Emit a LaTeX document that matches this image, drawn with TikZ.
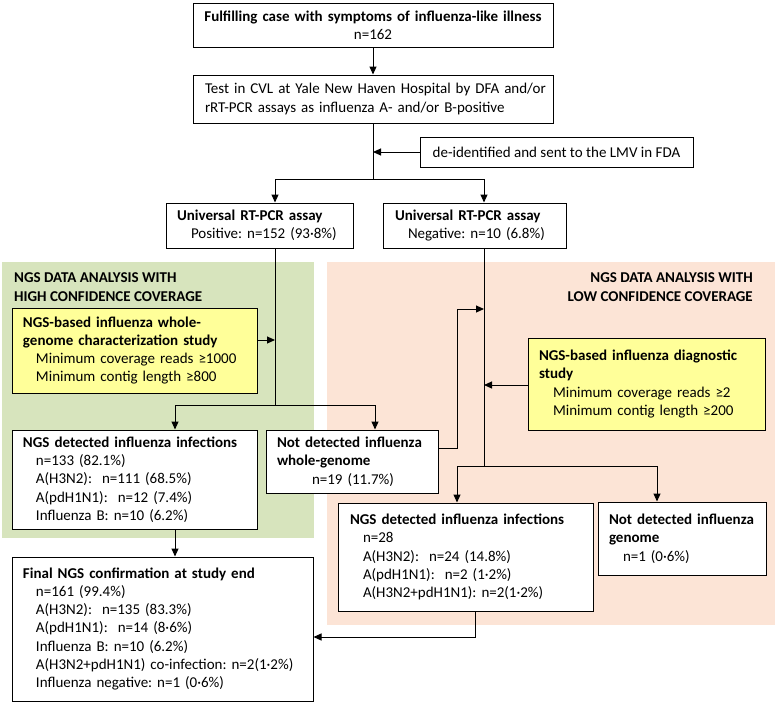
\documentclass[tikz,border=0pt]{standalone}
\usepackage{fontspec}
\setmainfont{Carlito}
\usetikzlibrary{arrows.meta}
\definecolor{greenbg}{RGB}{215,228,189}
\definecolor{peachbg}{RGB}{252,228,214}
\definecolor{yellowbox}{RGB}{255,255,153}
\newcommand\Ind{\hspace*{13pt}}
\frenchspacing
\begin{document}
\begin{tikzpicture}[x=1pt,y=-1pt,
  font=\fontsize{15}{18.3}\selectfont\frenchspacing,
  box/.style={draw=black, line width=1pt, fill=white, inner xsep=0pt, inner ysep=2pt, align=left},
  ybox/.style={box, fill=yellowbox},
  conn/.style={line width=1pt},
  arr/.style={conn, -{Triangle[length=8pt,width=7pt]}},
  grouptitle/.style={font=\fontsize{15}{18.3}\selectfont\bfseries, inner sep=0pt}]
\useasboundingbox (0,0) rectangle (777,705);
% background regions
\fill[greenbg] (2,262) rectangle (314,538);
\fill[peachbg] (327,262) rectangle (775,625);
\node[grouptitle, anchor=west, align=left] (gt) at (14,287) {NGS DATA ANALYSIS WITH\\HIGH CONFIDENCE COVERAGE};
\node[grouptitle, anchor=east, align=right] (pt) at (753,287) {NGS DATA ANALYSIS WITH\\LOW CONFIDENCE COVERAGE};
% boxes
\node[box, align=center, minimum width=360, minimum height=44, text width=338] (b1) at (373,25)
  {\mbox{\textbf{Fulfilling case with symptoms of influenza-like illness}}\\n=162};
\node[box, minimum width=360, minimum height=48, text width=336] (b2) at (373,99)
  {\mbox{Test in CVL at Yale New Haven Hospital by DFA and/or}\\\mbox{rRT-PCR assays as influenza A- and/or B-positive}};
\node[box, align=center, minimum width=273, minimum height=30] (lmv) at (556.5,152)
  {de-identified and sent to the LMV in FDA};
\node[box, minimum width=187, minimum height=45, text width=165] (u1) at (259.5,225.5)
  {\textbf{Universal RT-PCR assay}\\\hspace*{14pt}Positive: n=152 (93·8\%)};
\node[box, minimum width=183, minimum height=45, text width=159] (u2) at (474.5,225.5)
  {\textbf{Universal RT-PCR assay}\\\Ind Negative: n=10 (6.8\%)};
\node[ybox, minimum width=245, minimum height=85, text width=223] (y1) at (134.5,350.5)
  {\textbf{NGS-based influenza whole-}\\\textbf{genome characterization study}\\\Ind Minimum coverage reads ≥1000\\\Ind Minimum contig length ≥800};
\node[box, minimum width=245, minimum height=99, text width=223] (nd1) at (134.5,479.5)
  {\textbf{NGS detected influenza infections}\\\Ind n=133 (82.1\%)\\\Ind A(H3N2):\ \ n=111 (68.5\%)\\\Ind A(pdH1N1):\ \ n=12 (7.4\%)\\\Ind Influenza B: n=10 (6.2\%)};
\node[box, minimum width=172, minimum height=63, text width=150] (nn1) at (352,461.5)
  {\textbf{Not detected influenza}\\\textbf{whole-genome}\\\hspace*{35pt}n=19 (11.7\%)};
\node[ybox, minimum width=237, minimum height=92, text width=215] (y2) at (646.5,384)
  {\mbox{\textbf{NGS-based influenza diagnostic}}\\\textbf{study}\\\hspace*{14pt}Minimum coverage reads ≥2\\\hspace*{14pt}Minimum contig length ≥200};
\node[box, minimum width=255, minimum height=108, text width=231] (nd2) at (465.5,557)
  {\textbf{NGS detected influenza infections}\\\Ind n=28\\\Ind A(H3N2):\ \ n=24 (14.8\%)\\\Ind A(pdH1N1):\ \ n=2 (1·2\%)\\\Ind A(H3N2+pdH1N1): n=2(1·2\%)};
\node[box, minimum width=168, minimum height=73, text width=146] (nn2) at (682,538.5)
  {\textbf{Not detected influenza}\\\textbf{genome}\\\hspace*{14pt}n=1 (0·6\%)};
\node[box, minimum width=301, minimum height=144, text width=279] (fin) at (162.5,629)
  {\textbf{Final NGS confirmation at study end}\\\Ind n=161 (99.4\%)\\\Ind A(H3N2):\ \ n=135 (83.3\%)\\\Ind A(pdH1N1):\ \ n=14 (8·6\%)\\\Ind Influenza B: n=10 (6.2\%)\\\Ind\mbox{A(H3N2+pdH1N1) co-infection: n=2(1·2\%)}\\\Ind Influenza negative: n=1 (0·6\%)};
% coordinates
\coordinate (s1) at (373,179);
\coordinate (s1l) at (275,179);
\coordinate (s1r) at (484,179);
\coordinate (s2) at (275,405);
\coordinate (s2l) at (175,405);
\coordinate (s2r) at (375,405);
\coordinate (ya) at (275,340);
\coordinate (la) at (457,448);
\coordinate (lb) at (457,309);
\coordinate (lc) at (484,309);
\coordinate (s3) at (484,466);
\coordinate (s3l) at (457,466);
\coordinate (s3r) at (657,466);
\coordinate (yb) at (484,385);
\coordinate (fa) at (475,637);
% connectors
\draw[arr] (b1.south) -- (b2.north);
\draw[conn] (b2.south) -- (s1);
\draw[arr] (lmv.west) -- (lmv.west -| s1);
\draw[conn] (s1l) -- (s1r);
\draw[arr] (s1l) -- (s1l |- u1.north);
\draw[arr] (s1r) -- (s1r |- u2.north);
\draw[conn] (s1l |- u1.south) -- (s2);
\draw[arr] (y1.east |- ya) -- (ya);
\draw[conn] (s2l) -- (s2r);
\draw[arr] (s2l) -- (s2l |- nd1.north);
\draw[arr] (s2r) -- (s2r |- nn1.north);
\draw[arr] (nn1.east |- la) -- (la) -- (lb) -- (lc);
\draw[conn] (s1r |- u2.south) -- (s3);
\draw[arr] (y2.west |- yb) -- (yb);
\draw[conn] (s3l) -- (s3r);
\draw[arr] (s3l) -- (s3l |- nd2.north);
\draw[arr] (s3r) -- (s3r |- nn2.north);
\draw[arr] (s2l |- nd1.south) -- (s2l |- fin.north);
\draw[arr] (fa |- nd2.south) -- (fa) -- (fa -| fin.east);
\end{tikzpicture}
\end{document}
